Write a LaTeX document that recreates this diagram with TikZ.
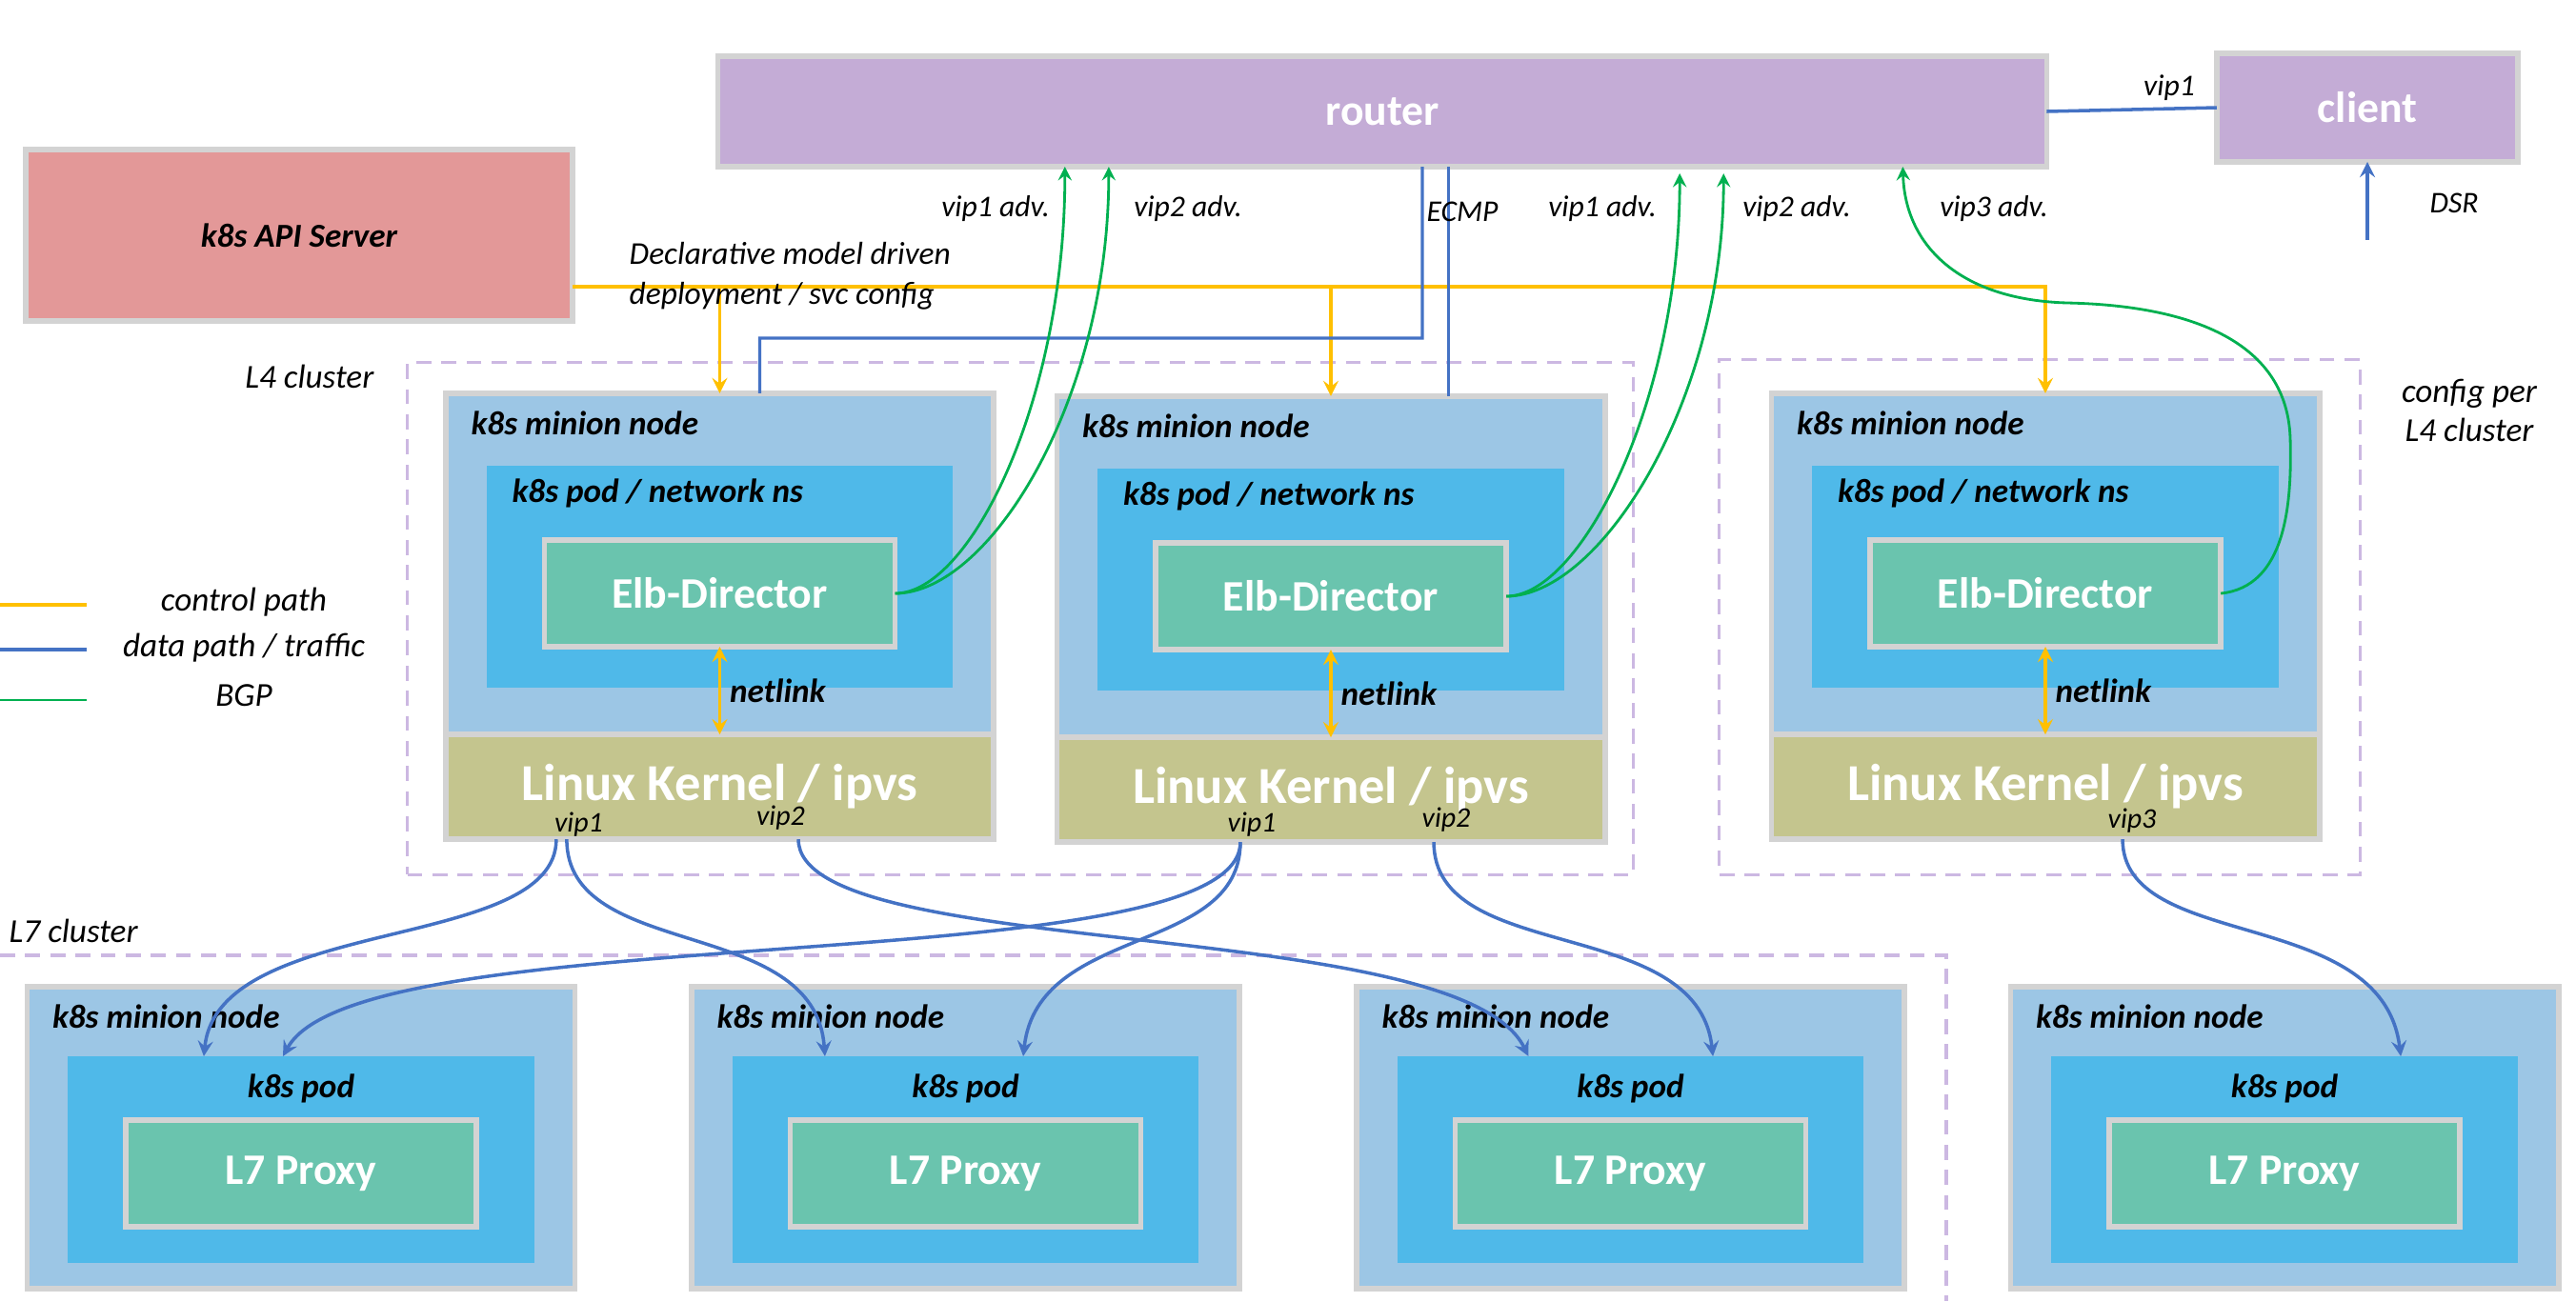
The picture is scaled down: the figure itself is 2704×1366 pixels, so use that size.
\documentclass[tikz,border=0pt]{standalone}
\usepackage{fontspec}
\setmainfont{Carlito}
\usetikzlibrary{positioning}
\definecolor{routerc}{RGB}{196,172,214}
\definecolor{apic}{RGB}{227,152,152}
\definecolor{minionc}{RGB}{156,198,229}
\definecolor{podc}{RGB}{79,185,233}
\definecolor{appc}{RGB}{106,196,174}
\definecolor{kernc}{RGB}{196,197,142}
\definecolor{edgec}{RGB}{211,211,211}
\definecolor{ctrlc}{RGB}{255,192,0}
\definecolor{datac}{RGB}{68,114,196}
\definecolor{bgpc}{RGB}{0,176,80}
\definecolor{clusc}{RGB}{204,184,226}
\tikzset{box/.style={draw=edgec, line width=1.6pt, outer sep=0pt, inner sep=0pt}}
\tikzset{big/.style={text=white, font=\fontsize{13}{15}\selectfont\bfseries}}
\tikzset{minion/.style={box, fill=minionc, minimum width=5.75cm}}
\tikzset{kern/.style={box, fill=kernc, minimum width=5.75cm, minimum height=1.1cm, text=white, font=\fontsize{15.5}{18}\selectfont\bfseries}}
\tikzset{pod/.style={fill=podc, outer sep=0pt, inner sep=0pt, minimum width=4.89cm}}
\tikzset{app/.style={box, big, fill=appc, minimum width=3.68cm, minimum height=1.12cm}}
\tikzset{tag/.style={inner sep=0pt, font=\fontsize{10}{12}\selectfont\bfseries\itshape}}
\tikzset{lbl/.style={inner sep=0pt, font=\fontsize{10}{11.5}\selectfont\itshape}}
\tikzset{note/.style={inner sep=0pt, font=\fontsize{9}{11}\selectfont\itshape}}
\tikzset{vip/.style={inner sep=0pt, font=\fontsize{8.5}{10}\selectfont\itshape}}
\tikzset{ctrl/.style={draw=ctrlc, line width=1pt}}
\tikzset{data/.style={draw=datac, line width=1pt}}
\tikzset{bgp/.style={draw=bgpc, line width=0.8pt}}
\tikzset{cluster/.style={draw=clusc, line width=0.9pt, dash pattern=on 4.5pt off 3pt, inner sep=0pt, outer sep=0pt}}
\begin{document}
\begin{tikzpicture}[x=0.01cm, y=-0.01cm, >=stealth]
\useasboundingbox (0,0) rectangle (2704,1366);
% clusters
\node[cluster, minimum width=12.86cm, minimum height=5.37cm] (l4a) at (1071,649.5) {};
\node[cluster, minimum width=6.72cm, minimum height=5.4cm] (l4b) at (2141,648) {};
\draw[cluster] (0,1003) -- (2043,1003) -- (2043,1366);
\node[lbl, anchor=east] (l4t) at (393,395) {L4 cluster};
\node[lbl, anchor=west] (l7t) at (9,977) {L7 cluster};
\node[lbl, align=center] (cfg) at (2592,431) {config per\\L4 cluster};

\node[box, big, fill=routerc, minimum width=13.94cm, minimum height=1.16cm] (r) at (1451,117) {router};
\node[box, big, fill=routerc, minimum width=3.16cm, minimum height=1.14cm] (cl) at (2485,113) {client};
\node[box, tag, fill=apic, minimum width=5.74cm, minimum height=1.8cm] (api) at (314,247) {k8s API Server};

% L4 minion nodes
\node[minion, minimum height=3.58cm] (m1) at (755.5,592) {};
\node[kern, below=0pt of m1] (k1) {Linux Kernel / ipvs};
\node[pod, minimum height=2.33cm, below=0.76cm of m1.north] (p1) {};
\node[app, below=0.78cm of p1.north] (e1) {Elb-Director};
\node[tag, anchor=west] (m1t) at ([shift={(26,31)}]m1.north west) {k8s minion node};
\node[tag, anchor=west] (p1t) at ([shift={(26,29)}]p1.north west) {k8s pod / network ns};
\node[vip] (v11) at ([shift={(-148,-16)}]k1.south) {vip1};
\node[vip] (v12) at ([shift={(64,-23)}]k1.south) {vip2};

\node[minion, minimum height=3.58cm] (m2) at (1397,595) {};
\node[kern, below=0pt of m2] (k2) {Linux Kernel / ipvs};
\node[pod, minimum height=2.33cm, below=0.76cm of m2.north] (p2) {};
\node[app, below=0.78cm of p2.north] (e2) {Elb-Director};
\node[tag, anchor=west] (m2t) at ([shift={(26,31)}]m2.north west) {k8s minion node};
\node[tag, anchor=west] (p2t) at ([shift={(26,29)}]p2.north west) {k8s pod / network ns};
\node[vip] (v21) at ([shift={(-83,-19)}]k2.south) {vip1};
\node[vip] (v22) at ([shift={(121,-24)}]k2.south) {vip2};

\node[minion, minimum height=3.58cm] (m3) at (2147,592) {};
\node[kern, below=0pt of m3] (k3) {Linux Kernel / ipvs};
\node[pod, minimum height=2.33cm, below=0.76cm of m3.north] (p3) {};
\node[app, below=0.78cm of p3.north] (e3) {Elb-Director};
\node[tag, anchor=west] (m3t) at ([shift={(26,31)}]m3.north west) {k8s minion node};
\node[tag, anchor=west] (p3t) at ([shift={(26,29)}]p3.north west) {k8s pod / network ns};
\node[vip] (v33) at ([shift={(91,-20)}]k3.south) {vip3};

\draw[ctrl, <->] (e1.south) -- (e1.south |- k1.north) node[tag, midway, right=2.5pt] (nl1) {netlink};
\draw[ctrl, <->] (e2.south) -- (e2.south |- k2.north) node[tag, midway, right=2.5pt] (nl2) {netlink};
\draw[ctrl, <->] (e3.south) -- (e3.south |- k3.north) node[tag, midway, right=2.5pt] (nl3) {netlink};

% L7 minion nodes
\node[minion, minimum height=3.17cm] (n1) at (316,1194.5) {};
\node[pod, minimum height=2.17cm, below=0.73cm of n1.north] (q1) {};
\node[app, below=0.67cm of q1.north] (x1) {L7 Proxy};
\node[tag, anchor=west] (n1t) at ([shift={(26,31)}]n1.north west) {k8s minion node};
\node[tag] (q1t) at ([shift={(0,34)}]q1.north) {k8s pod};

\node[minion, minimum height=3.17cm] (n2) at (1013.5,1194.5) {};
\node[pod, minimum height=2.17cm, below=0.73cm of n2.north] (q2) {};
\node[app, below=0.67cm of q2.north] (x2) {L7 Proxy};
\node[tag, anchor=west] (n2t) at ([shift={(26,31)}]n2.north west) {k8s minion node};
\node[tag] (q2t) at ([shift={(0,34)}]q2.north) {k8s pod};

\node[minion, minimum height=3.17cm] (n3) at (1711.5,1194.5) {};
\node[pod, minimum height=2.17cm, below=0.73cm of n3.north] (q3) {};
\node[app, below=0.67cm of q3.north] (x3) {L7 Proxy};
\node[tag, anchor=west] (n3t) at ([shift={(26,31)}]n3.north west) {k8s minion node};
\node[tag] (q3t) at ([shift={(0,34)}]q3.north) {k8s pod};

\node[minion, minimum height=3.17cm] (n4) at (2398,1194.5) {};
\node[pod, minimum height=2.17cm, below=0.73cm of n4.north] (q4) {};
\node[app, below=0.67cm of q4.north] (x4) {L7 Proxy};
\node[tag, anchor=west] (n4t) at ([shift={(26,31)}]n4.north west) {k8s minion node};
\node[tag] (q4t) at ([shift={(0,34)}]q4.north) {k8s pod};

% control path
\coordinate (cp) at ([yshift=-0.54cm]api.east);
\draw[ctrl, ->] (cp) -| (m3.north);
\draw[ctrl, ->] (cp -| m1.north) -- (m1.north);
\draw[ctrl, ->] (cp -| m2.north) -- (m2.north);
\node[note, anchor=west, align=left, font=\fontsize{9.5}{12}\selectfont\itshape] (decl) at (660,290) {Declarative model driven\\deployment / svc config};

% data path
\coordinate (ec) at (1493,355);
\draw[data, line width=0.9pt] ([xshift=0.42cm]r.south) -- (ec) -| ([xshift=0.42cm]m1.north);
\draw[data, line width=0.9pt] ([xshift=1.23cm]m2.north) -- ([xshift=1.23cm]m2.north |- r.south);
\node[note] (ecl) at (1535,222) {ECMP};
\draw[data] (r.east) -- (cl.west);
\node[note] (cv) at (2277,92) {vip1};
\draw[data, ->] ([yshift=-0.82cm]cl.south) -- (cl.south);
\node[note] (dsr) at (2576,213) {DSR};

% BGP
\draw[bgp, ->] (e1.east) .. controls +(79,0) and +(0,245) .. ([xshift=-3.33cm]r.south);
\draw[bgp, ->] (e1.east) .. controls +(99,0) and +(0,245) .. ([xshift=-2.87cm]r.south);
\draw[bgp, ->] (e2.east) .. controls +(79,0) and +(0,238) .. ([xshift=3.12cm, yshift=-0.07cm]r.south);
\draw[bgp, ->] (e2.east) .. controls +(99,0) and +(0,238) .. ([xshift=3.58cm, yshift=-0.07cm]r.south);
\draw[bgp, ->] (e3.east) .. controls +(68,-7) and (2406,530) .. (2404,460)
  .. controls (2400,340) and (2260,320) .. (2170,318)
  .. controls (2060,315) and (2000,260) .. ([xshift=5.46cm]r.south);
\node[note] (a11) at (1045,219) {vip1 adv.};
\node[note] (a12) at (1247,219) {vip2 adv.};
\node[note] (a21) at (1682,219) {vip1 adv.};
\node[note] (a22) at (1886,219) {vip2 adv.};
\node[note] (a33) at (2093,219) {vip3 adv.};

% traffic to L7
\draw[data, ->] ([xshift=-1.715cm]k1.south) .. controls +(0,119) and +(16,-149) .. ([xshift=-1.02cm]q1.north);
\draw[data, ->] ([xshift=-1.605cm]k1.south) .. controls +(0,129) and +(-11,-149) .. ([xshift=-1.475cm]q2.north);
\draw[data, ->] ([xshift=0.825cm]k1.south) .. controls +(0,129) and +(-74,-149) .. ([xshift=-1.07cm]q3.north);
\draw[data, ->] ([xshift=-0.95cm]k2.south) .. controls +(0,149) and +(83,-149) .. ([xshift=-0.19cm]q1.north);
\draw[data, ->] ([xshift=-0.95cm]k2.south) .. controls +(0,119) and +(16,-139) .. ([xshift=0.605cm]q2.north);
\draw[data, ->] ([xshift=1.08cm]k2.south) .. controls +(0,129) and +(-17,-149) .. ([xshift=0.865cm]q3.north);
\draw[data, ->] ([xshift=0.81cm]k3.south) .. controls +(0,119) and +(-20,-159) .. ([xshift=1.22cm]q4.north);

% legend
\draw[ctrl] (0,635) -- (91,635);
\node[lbl] (lg1) at (256,632) {control path};
\draw[data] (0,682) -- (91,682);
\node[lbl] (lg2) at (256,680) {data path / traffic};
\draw[bgp] (0,735) -- (91,735);
\node[lbl] (lg3) at (256,730) {BGP};
\end{tikzpicture}
\end{document}
